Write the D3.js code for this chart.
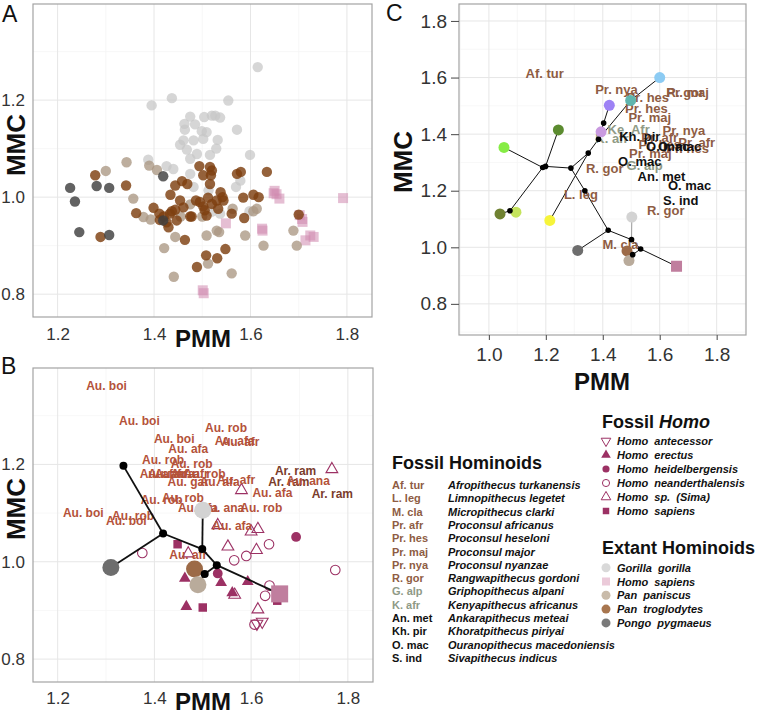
<!DOCTYPE html>
<html><head><meta charset="utf-8">
<script src="https://cdn.jsdelivr.net/npm/d3@7"></script>
<style>body{margin:0;background:#fff;} svg{display:block;font-family:"Liberation Sans",Arial,Helvetica,sans-serif;}</style>
</head><body><svg id="c" width="762" height="713"></svg>
<script>
// ---------------- DATA ----------------
const xTicksAB = [1.2, 1.4, 1.6, 1.8];
const yTicksAB = [0.8, 1.0, 1.2];
const xMinorAB = [1.3, 1.5, 1.7];
const yMinorAB = [0.9, 1.1, 1.3];
const xTicksC = [1.0, 1.2, 1.4, 1.6, 1.8];
const yTicksC = [0.8, 1.0, 1.2, 1.4, 1.6, 1.8];
const xMinorC = [0.9, 1.1, 1.3, 1.5, 1.7, 1.9];
const yMinorC = [0.7, 0.9, 1.1, 1.3, 1.5, 1.7];

// Panel A: extant specimens [PMM, MMC]
const gorillaA = [[1.554,1.199],[1.615,1.268],[1.437,1.204],[1.395,1.189],[1.504,1.165],[1.475,1.166],[1.52,1.168],[1.527,1.168],[1.537,1.164],[1.463,1.151],[1.485,1.15],[1.464,1.139],[1.572,1.139],[1.499,1.136],[1.509,1.134],[1.461,1.117],[1.482,1.117],[1.502,1.12],[1.532,1.118],[1.454,1.108],[1.468,1.098],[1.489,1.089],[1.516,1.087],[1.529,1.1],[1.599,1.087],[1.475,1.079],[1.388,1.077],[1.426,1.064],[1.44,1.058],[1.475,1.048],[1.579,1.034],[1.57,1.021],[1.482,1.021],[1.513,1.014],[1.598,0.971],[1.537,0.966],[1.52,0.97]];
const homoA = [[1.648,1.008],[1.65,1.013],[1.654,1.006],[1.66,0.997],[1.792,0.998],[1.549,0.946],[1.624,0.935],[1.625,0.931],[1.707,0.955],[1.708,0.949],[1.714,0.911],[1.724,0.921],[1.731,0.918],[1.501,0.808],[1.503,0.802],[1.702,0.963]];
const panPanA = [[1.3,1.054],[1.343,1.072],[1.357,0.997],[1.378,0.959],[1.393,0.954],[1.39,1.065],[1.406,1.056],[1.421,0.895],[1.444,0.918],[1.441,0.836],[1.509,0.921],[1.512,0.863],[1.53,0.931],[1.535,0.928],[1.563,0.976],[1.561,0.843],[1.589,0.921],[1.606,0.971],[1.613,0.976],[1.627,0.9],[1.689,0.931],[1.696,0.9],[1.475,0.985],[1.455,0.96],[1.5,0.96]];
const panTrogA = [[1.278,1.045],[1.342,1.024],[1.363,0.967],[1.289,0.918],[1.399,0.978],[1.411,0.966],[1.412,0.953],[1.426,0.948],[1.433,0.966],[1.437,0.971],[1.444,0.974],[1.43,0.938],[1.434,1.005],[1.444,1.024],[1.458,1.033],[1.469,1.027],[1.454,0.993],[1.461,0.979],[1.447,0.952],[1.464,0.912],[1.475,0.96],[1.487,0.993],[1.495,0.99],[1.502,0.981],[1.505,0.973],[1.509,0.962],[1.494,1.064],[1.502,1.045],[1.516,1.062],[1.52,1.055],[1.518,1.045],[1.516,1.027],[1.512,0.999],[1.52,0.986],[1.53,0.993],[1.533,0.976],[1.538,1.01],[1.542,1.0],[1.544,0.993],[1.572,1.048],[1.58,1.052],[1.585,0.999],[1.587,0.957],[1.606,1.005],[1.617,1.0],[1.634,1.052],[1.489,0.856],[1.508,0.88],[1.531,0.874],[1.548,0.893],[1.561,0.966],[1.7,0.964],[1.42,0.96],[1.478,0.96]];
const pongoA = [[1.226,1.019],[1.236,0.991],[1.245,0.928],[1.281,1.023],[1.307,1.019],[1.307,0.922],[1.419,1.043],[1.419,0.952]];

// Panel B: fossil Homo specimens
const homoAntecessorB = [[1.623,0.877],[1.612,0.873]];
const homoErectusB = [[1.463,0.966],[1.538,0.957],[1.593,0.959],[1.561,0.936],[1.466,0.908]];
const homoHeidelB = [[1.693,1.051],[1.531,0.976]];
const homoNeanderB = [[1.375,1.018],[1.565,1.003],[1.59,1.012],[1.637,1.036],[1.638,0.951],[1.629,0.93],[1.774,0.983],[1.607,0.871]];
const homoSimaB = [[1.767,1.19],[1.58,1.147],[1.531,1.075],[1.6,1.062],[1.614,1.067],[1.552,1.031],[1.611,1.024],[1.47,1.017],[1.566,0.932],[1.614,0.902]];
const homoSapFossilB = [[1.448,1.036],[1.5,0.906],[1.654,0.92]];
// Panel B: hominin labels [label, PMM, MMC]
const hominLabelsB = [["Au. boi",1.301,1.362],["Au. boi",1.369,1.289],["Au. boi",1.441,1.253],["Au. rob",1.548,1.275],["Au. afa",1.566,1.248],["Au. afr",1.578,1.245],["Au. afa",1.47,1.231],["Au. rob",1.418,1.209],["Au. rob",1.477,1.2],["Au. afa",1.411,1.18],["Au. afr",1.426,1.18],["Au. afa",1.442,1.18],["Au. afr",1.473,1.18],["Au. rob",1.504,1.18],["Au. gar",1.47,1.163],["Au. afa",1.535,1.164],["Au. afr",1.569,1.168],["Au. afa",1.644,1.142],["Au. rob",1.415,1.127],["Au. rob",1.459,1.13],["Au. afa",1.49,1.11],["Au. ana",1.541,1.11],["Au. rob",1.621,1.11],["Au. boi",1.253,1.101],["Au. rob",1.356,1.094],["Au. boi",1.342,1.084],["Au. afa",1.561,1.074],["Au. afr",1.47,1.014],["Ar. ram",1.692,1.187],["Ar. ram",1.678,1.164],["Au. ana",1.718,1.166],["Ar. ram",1.768,1.14]];
// Panel B tree
const treeNodesB = [[1.336,1.197],[1.418,1.058],[1.499,1.026],[1.529,0.993],[1.504,0.975]];
const treeTipsB = [["Pongo",1.31,0.988],["Gorilla",1.5,1.106],["PanTrog",1.483,0.985],["PanPan",1.49,0.953],["Homo",1.659,0.934]];
const treeEdgesB = [["n0","n1"],["n1","Pongo"],["n1","n2"],["n2","Gorilla"],["n2","n3"],["n3","Homo"],["n3","n4"],["n4","PanTrog"],["n4","PanPan"]];

// Panel C tree
const treeNodesC = [[1.189,1.282],[1.199,1.286],[1.288,1.28],[1.349,1.333],[1.385,1.382],[1.403,1.439],[1.337,1.2],[1.419,1.06],[1.501,1.027],[1.533,0.994],[1.505,0.974],[1.074,1.129]];
const treeTipsC = [["LightBlue",1.6,1.6],["Teal",1.498,1.519],["Purple",1.423,1.502],["Lavender",1.394,1.408],["DarkGreen",1.244,1.415],["BrightGreen",1.053,1.353],["Olive",1.039,1.118],["YellowGreen",1.095,1.124],["Yellow",1.214,1.095],["Pongo",1.312,0.989],["Gorilla",1.502,1.107],["PanTrog",1.485,0.987],["PanPan",1.492,0.953],["Homo",1.659,0.933]];
const treeEdgesC = [["n0","n1"],["n0","BrightGreen"],["n0","n11"],["n11","Olive"],["n11","YellowGreen"],["n1","DarkGreen"],["n1","n2"],["n2","n3"],["n3","Yellow"],["n3","n4"],["n4","n5"],["n5","Purple"],["n4","Lavender"],["n4","Teal"],["Teal","LightBlue"],["n2","n6"],["n6","n7"],["n7","Pongo"],["n7","n8"],["n8","Gorilla"],["n8","n9"],["n9","Homo"],["n9","n10"],["n10","PanTrog"],["n10","PanPan"]];
const fossilLabelsC = [["Af. tur",1.196,1.613],["Pr. nya",1.448,1.557],["Pr. hes",1.558,1.531],["Pr. hes",1.553,1.492],["Pr. maj",1.565,1.46],["Pr. maj",1.698,1.547],["R. gor",1.69,1.547],["Ke. Afr",1.491,1.415],["K. afr",1.432,1.384],["Pr. hes",1.6,1.365],["Pr. nya",1.685,1.412],["Pr. afr",1.6,1.387],["Pr. afr",1.73,1.37],["Pr. hes",1.698,1.348],["Pr. maj",1.567,1.333],["Kh. pir",1.53,1.391],["O. mac",1.628,1.355],["O. mac",1.67,1.355],["G. alp",1.547,1.288],["O. mac",1.53,1.304],["R. gor",1.407,1.277],["An. met",1.606,1.251],["O. mac",1.705,1.218],["S. ind",1.674,1.165],["R. gor",1.621,1.131],["L. leg",1.323,1.186],["M. cla",1.462,1.01]];

// Legend
const fossilAbbr = ["Af. tur","L. leg","M. cla","Pr. afr","Pr. hes","Pr. maj","Pr. nya","R. gor","G. alp","K. afr","An. met","Kh. pir","O. mac","S. ind"];
const fossilNames = ["Afropithecus turkanensis","Limnopithecus legetet","Micropithecus clarki","Proconsul africanus","Proconsul heseloni","Proconsul major","Proconsul nyanzae","Rangwapithecus gordoni","Griphopithecus alpani","Kenyapithecus africanus","Ankarapithecus meteai","Khoratpithecus piriyai","Ouranopithecus macedoniensis","Sivapithecus indicus"];
const fossilGroup = ["early","early","early","early","early","early","early","early","mid","mid","late","late","late","late"];
const homoLegend = ["Homo  antecessor","Homo  erectus","Homo  heidelbergensis","Homo  neanderthalensis","Homo  sp.  (Sima)","Homo  sapiens"];
const extantLegend = ["Gorilla  gorilla","Homo  sapiens","Pan  paniscus","Pan  troglodytes","Pongo  pygmaeus"];

// ---------------- STYLE ----------------
const FONT = '"Liberation Sans",Arial,Helvetica,sans-serif';
const groupColor = {early:"#8e5c43", mid:"#8f9a86", late:"#111"};
const abbrColor = {};
fossilAbbr.forEach((a,i)=>abbrColor[a]=groupColor[fossilGroup[i]]);
abbrColor["Ke. Afr"] = groupColor.mid;
const homoCol = "#9c3164";
const tipColC = {LightBlue:"#8ccbf3",Teal:"#5fb5ae",Purple:"#9d82f5",Lavender:"#c99ae0",DarkGreen:"#5b8b2f",BrightGreen:"#86ec45",Olive:"#6f8131",YellowGreen:"#c4e35c",Yellow:"#f6f43a",Pongo:"#6d6d6d",Gorilla:"#d3d3d3",PanTrog:"#9c6a47",PanPan:"#b9ab9b",Homo:"#c07e9e"};

const svg = d3.select("#c");

function panel(p) {
  const x = d3.scaleLinear().domain(p.xd).range([p.l, p.r]);
  const y = d3.scaleLinear().domain(p.yd).range([p.b, p.t]);
  const g = svg.append("g");
  g.append("rect").attr("x",p.l).attr("y",p.t).attr("width",p.r-p.l).attr("height",p.b-p.t).attr("fill","#fff");
  const grid = g.append("g");
  grid.selectAll(".xmn").data(p.xminor.filter(d=>x(d)>p.l&&x(d)<p.r)).join("line").attr("x1",d=>x(d)).attr("x2",d=>x(d)).attr("y1",p.t).attr("y2",p.b).attr("stroke","#f4f4f4").attr("stroke-width",0.7);
  grid.selectAll(".ymn").data(p.yminor.filter(d=>y(d)>p.t&&y(d)<p.b)).join("line").attr("y1",d=>y(d)).attr("y2",d=>y(d)).attr("x1",p.l).attr("x2",p.r).attr("stroke","#f4f4f4").attr("stroke-width",0.7);
  grid.selectAll(".xmj").data(p.xticks).join("line").attr("x1",d=>x(d)).attr("x2",d=>x(d)).attr("y1",p.t).attr("y2",p.b).attr("stroke","#e6e6e6").attr("stroke-width",1);
  grid.selectAll(".ymj").data(p.yticks).join("line").attr("y1",d=>y(d)).attr("y2",d=>y(d)).attr("x1",p.l).attr("x2",p.r).attr("stroke","#e6e6e6").attr("stroke-width",1);
  g.append("rect").attr("x",p.l).attr("y",p.t).attr("width",p.r-p.l).attr("height",p.b-p.t).attr("fill","none").attr("stroke","#a3a3a3").attr("stroke-width",1.2);
  const gx = svg.append("g").attr("transform",`translate(0,${p.b})`)
    .call(d3.axisBottom(x).tickValues(p.xticks).tickFormat(d3.format(".1f")).tickSize(p.tick).tickPadding(p.xpad));
  const gy = svg.append("g").attr("transform",`translate(${p.l},0)`)
    .call(d3.axisLeft(y).tickValues(p.yticks).tickFormat(d3.format(".1f")).tickSize(p.ytick).tickPadding(p.ypad));
  [gx,gy].forEach(a=>{
    a.select(".domain").remove();
    a.attr("font-family",FONT).attr("font-size",p.fs);
    a.selectAll("text").attr("fill","#333");
    a.selectAll("line").attr("stroke","#555").attr("stroke-width",1.1);
  });
  svg.append("text").attr("x",p.titleX).attr("y",p.titleY).attr("text-anchor","middle")
    .attr("font-family",FONT).attr("font-weight","bold").attr("font-size",24).attr("fill","#111").text("PMM");
  svg.append("text").attr("transform",`translate(${p.yTitleX},${p.yTitleY}) rotate(-90)`).attr("text-anchor","middle")
    .attr("dominant-baseline","central").attr("font-family",FONT).attr("font-weight","bold").attr("font-size",26).attr("fill","#111").text("MMC");
  svg.append("text").attr("x",p.letterX).attr("y",p.letterY).attr("font-family",FONT).attr("font-size",23).attr("fill","#111").text(p.letter);
  const data = svg.append("g");
  return {x, y, g: data};
}

// ---------------- PANEL A ----------------
const A = panel({l:33,r:372,t:4,b:317,xd:[1.149,1.852],yd:[0.753,1.398],xticks:xTicksAB,yticks:yTicksAB,xminor:xMinorAB,yminor:yMinorAB,
  tick:0,ytick:0,xpad:11,ypad:8,fs:17,titleX:203,titleY:347,yTitleX:16,yTitleY:145,letter:"A",letterX:2,letterY:22});
function circlesA(arr, fill, op) {
  A.g.append("g").selectAll("circle").data(arr).join("circle")
    .attr("cx",d=>A.x(d[0])).attr("cy",d=>A.y(d[1])).attr("r",5.2).attr("fill",fill).attr("fill-opacity",op);
}
circlesA(gorillaA, "#c6c6c6", 0.72);
A.g.append("g").selectAll("rect").data(homoA).join("rect")
  .attr("x",d=>A.x(d[0])-5).attr("y",d=>A.y(d[1])-5).attr("width",10).attr("height",10)
  .attr("fill","#d088ae").attr("fill-opacity",0.55);
circlesA(panPanA, "#ab9783", 0.78);
circlesA(panTrogA, "#7e3f10", 0.82);
circlesA(pongoA, "#404040", 0.82);

// ---------------- PANEL B ----------------
const B = panel({l:33,r:373,t:368,b:682,xd:[1.149,1.852],yd:[0.753,1.398],xticks:xTicksAB,yticks:yTicksAB,xminor:xMinorAB,yminor:yMinorAB,
  tick:0,ytick:0,xpad:10,ypad:8,fs:17,titleX:203,titleY:710,yTitleX:16,yTitleY:509,letter:"B",letterX:1,letterY:374});
function symB(arr, type, size, filled, rot) {
  B.g.append("g").selectAll("path").data(arr).join("path")
    .attr("d", d3.symbol().type(type).size(size)())
    .attr("transform",d=>`translate(${B.x(d[0])},${B.y(d[1])})${rot?" rotate(180)":""}`)
    .attr("fill", filled?homoCol:"none").attr("stroke", filled?"none":homoCol).attr("stroke-width",1.1);
}
symB(homoSimaB, d3.symbolTriangle, 60, false);
symB(homoNeanderB, d3.symbolCircle, 72, false);
symB(homoAntecessorB, d3.symbolTriangle, 60, false, true);
symB(homoErectusB, d3.symbolTriangle, 60, true);
symB(homoHeidelB, d3.symbolCircle, 75, true);
symB(homoSapFossilB, d3.symbolSquare, 72, true);
B.g.append("g").selectAll("text").data(hominLabelsB).join("text")
  .attr("x",d=>B.x(d[1])).attr("y",d=>B.y(d[2])).attr("text-anchor","middle").attr("dominant-baseline","central")
  .attr("font-family",FONT).attr("font-weight","bold").attr("font-size",12)
  .attr("fill",d=>d[0].startsWith("Ar.")?"#7a3c2c":"#b4523a").text(d=>d[0]);
function drawTree(P, nodes, tips, edges, opt) {
  const pos = {};
  nodes.forEach((n,i)=>pos["n"+i]=n);
  tips.forEach(t=>pos[t[0]]=[t[1],t[2]]);
  P.g.append("g").selectAll("line").data(edges).join("line")
    .attr("x1",d=>P.x(pos[d[0]][0])).attr("y1",d=>P.y(pos[d[0]][1]))
    .attr("x2",d=>P.x(pos[d[1]][0])).attr("y2",d=>P.y(pos[d[1]][1]))
    .attr("stroke",d=>(opt.grayGorilla && d[1]==="Gorilla")?"#999":"#111").attr("stroke-width",opt.lw);
  if (opt.labels) opt.labels();
  const tg = P.g.append("g");
  tips.forEach(t=>{
    const cx=P.x(t[1]), cy=P.y(t[2]);
    if (t[0]==="Homo") tg.append("rect").attr("x",cx-opt.sq/2).attr("y",cy-opt.sq/2).attr("width",opt.sq).attr("height",opt.sq).attr("fill",tipColC.Homo);
    else tg.append("circle").attr("cx",cx).attr("cy",cy).attr("r",opt.tr).attr("fill",tipColC[t[0]]);
  });
  P.g.append("g").selectAll("circle").data(nodes).join("circle")
    .attr("cx",d=>P.x(d[0])).attr("cy",d=>P.y(d[1])).attr("r",opt.nr).attr("fill","#000");
}
drawTree(B, treeNodesB, treeTipsB, treeEdgesB, {lw:1.8, tr:8.5, sq:17, nr:4, grayGorilla:false});

// ---------------- PANEL C ----------------
const C = panel({l:459,r:746,t:4,b:335,xd:[0.895,1.903],yd:[0.69,1.86],xticks:xTicksC,yticks:yTicksC,xminor:xMinorC,yminor:yMinorC,
  tick:5,ytick:8,xpad:8,ypad:4,fs:19,titleX:602,titleY:390,yTitleX:403,yTitleY:162,letter:"C",letterX:386,letterY:21});
drawTree(C, treeNodesC, treeTipsC, treeEdgesC, {lw:1, tr:5.5, sq:11, nr:2.8, grayGorilla:true,
  labels: ()=>{
    C.g.append("g").selectAll("text").data(fossilLabelsC).join("text")
      .attr("x",d=>C.x(d[1])).attr("y",d=>C.y(d[2])).attr("text-anchor","middle").attr("dominant-baseline","central")
      .attr("font-family",FONT).attr("font-weight","bold").attr("font-size",13)
      .attr("fill",d=>abbrColor[d[0]]).text(d=>d[0]);
  }});

// ---------------- LEGEND ----------------
const L = svg.append("g").attr("font-family",FONT);
L.append("text").attr("x",392).attr("y",469).attr("font-weight","bold").attr("font-size",18).attr("fill","#111").text("Fossil Hominoids");
fossilAbbr.forEach((a,i)=>{
  const yy = 489 + i*13.3;
  L.append("text").attr("x",392).attr("y",yy).attr("font-weight","bold").attr("font-size",11).attr("fill",abbrColor[a]).text(a);
  L.append("text").attr("x",448).attr("y",yy).attr("font-weight","bold").attr("font-style","italic").attr("font-size",11).attr("fill","#111").text(fossilNames[i]);
});
const fh = L.append("text").attr("x",602).attr("y",428).attr("font-weight","bold").attr("font-size",18).attr("fill","#111");
fh.append("tspan").text("Fossil ");
fh.append("tspan").attr("font-style","italic").text("Homo");
const homoSyms = [[d3.symbolTriangle,true,false],[d3.symbolTriangle,false,true],[d3.symbolCircle,false,true],[d3.symbolCircle,false,false],[d3.symbolTriangle,false,false],[d3.symbolSquare,false,true]];
homoLegend.forEach((t,i)=>{
  const yy = 445 + i*14;
  const s = homoSyms[i];
  L.append("path").attr("d",d3.symbol().type(s[0]).size(s[0]===d3.symbolSquare?42:40)())
    .attr("transform",`translate(606,${yy-4})${s[1]?" rotate(180)":""}`)
    .attr("fill",s[2]?homoCol:"none").attr("stroke",s[2]?"none":homoCol).attr("stroke-width",1);
  L.append("text").attr("x",617).attr("y",yy).attr("font-weight","bold").attr("font-style","italic").attr("font-size",11)
    .attr("fill","#111").style("white-space","pre").text(t);
});
L.append("text").attr("x",602).attr("y",554).attr("font-weight","bold").attr("font-size",18).attr("fill","#111").text("Extant Hominoids");
const extantCols = ["#d9d9d9","#ebcad9","#c9bbaa","#a8764f","#7a7a7a"];
extantLegend.forEach((t,i)=>{
  const yy = 571.7 + i*13.8;
  if (i===1) L.append("rect").attr("x",602).attr("y",yy-8).attr("width",8).attr("height",8).attr("fill",extantCols[i]);
  else L.append("circle").attr("cx",606).attr("cy",yy-4).attr("r",4.5).attr("fill",extantCols[i]);
  L.append("text").attr("x",617).attr("y",yy).attr("font-weight","bold").attr("font-style","italic").attr("font-size",11)
    .attr("fill","#111").style("white-space","pre").text(t);
});
</script></body></html>
